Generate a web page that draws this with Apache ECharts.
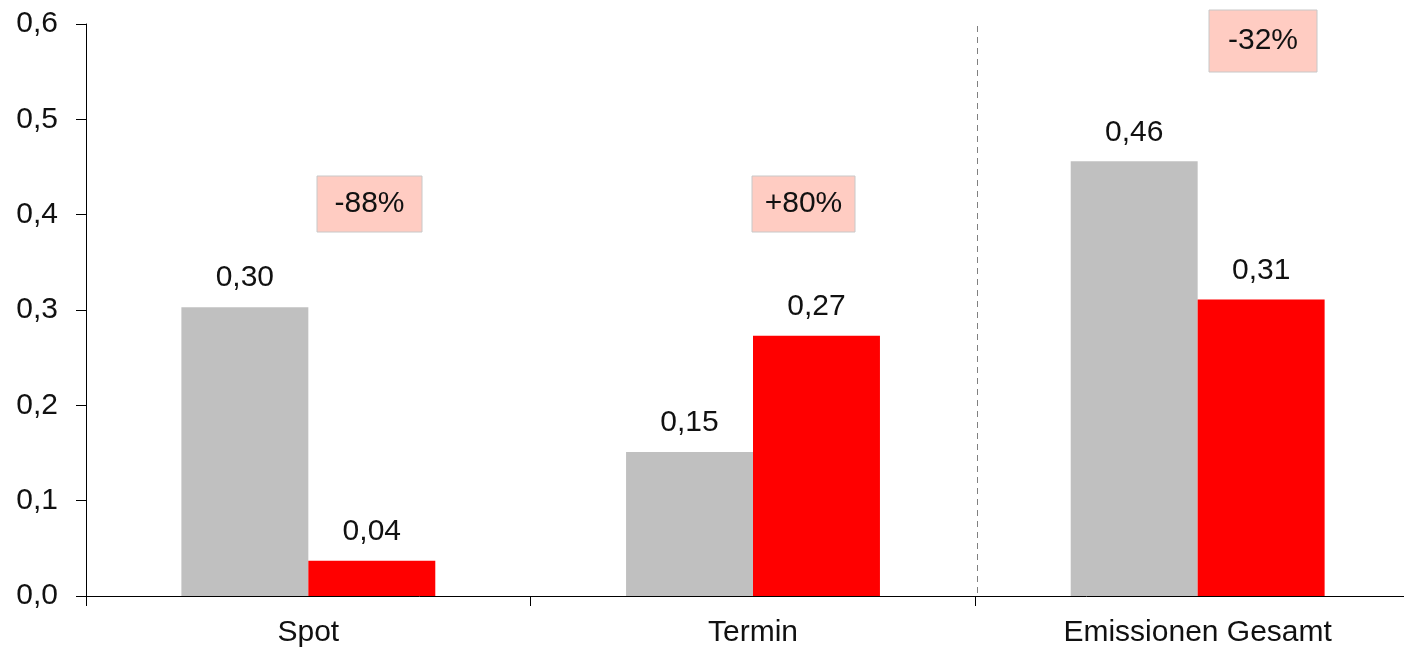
<!DOCTYPE html>
<html>
<head>
<meta charset="utf-8">
<script src="https://cdn.jsdelivr.net/npm/echarts@6/dist/echarts.min.js"></script>
<style>html,body{margin:0;padding:0;background:#fff;overflow:hidden;width:1404px;height:652px;}#c{width:1420px;height:652px;}</style>
</head>
<body>
<div id="c"></div>
<script>
const categories = ['Spot', 'Termin', 'Emissionen Gesamt'];
const grayValues = [0.303, 0.151, 0.456];
const redValues = [0.037, 0.273, 0.311];
const yTicks = [0, 0.1, 0.2, 0.3, 0.4, 0.5, 0.6];
const changeLabels = ['-88%', '+80%', '-32%'];

const FONT = '"Liberation Sans", Arial, sans-serif';
const fmt2 = v => v.toFixed(2).replace('.', ',');

const chart = echarts.init(document.getElementById('c'));

function box(x, y, w, h, txt) {
  return {
    type: 'group', x: x, y: y,
    children: [
      { type: 'rect', shape: { x: 0, y: 0, width: w, height: h },
        style: { fill: '#FFCCC2', stroke: '#C8C8C8', lineWidth: 1 } },
      { type: 'text', x: w / 2, y: h / 2,
        style: { text: txt, fontSize: 30, fontFamily: FONT, fill: '#111', align: 'center', verticalAlign: 'middle' } }
    ]
  };
}

chart.setOption({
  animation: false,
  backgroundColor: '#fff',
  grid: { left: 86, top: 24, bottom: 56, right: 0, containLabel: false },
  xAxis: {
    type: 'category',
    data: categories,
    axisLine: { lineStyle: { color: '#000', width: 1 } },
    axisTick: { show: true, length: 10, lineStyle: { color: '#000' } },
    axisLabel: { fontSize: 30, fontFamily: FONT, color: '#111', margin: 22 }
  },
  yAxis: {
    type: 'value',
    min: 0, max: 0.6, interval: 0.1,
    splitLine: { show: false },
    axisLine: { show: true, lineStyle: { color: '#000', width: 1 } },
    axisTick: { show: true, length: 10, lineStyle: { color: '#000' } },
    axisLabel: { fontSize: 30, fontFamily: FONT, color: '#111', margin: 28,
      formatter: v => v.toFixed(1).replace('.', ',') }
  },
  series: [
    {
      type: 'bar', data: grayValues, barGap: '0%', barCategoryGap: '42.9%',
      itemStyle: { color: '#C0C0C0' },
      label: { show: true, position: 'top', distance: 14, fontSize: 30, fontFamily: FONT, color: '#111',
        formatter: p => fmt2(p.value) }
    },
    {
      type: 'bar', data: redValues,
      itemStyle: { color: '#FF0000' },
      label: { show: true, position: 'top', distance: 14, fontSize: 30, fontFamily: FONT, color: '#111',
        formatter: p => fmt2(p.value) }
    }
  ],
  graphic: [
    { type: 'line', shape: { x1: 977.5, y1: 26, x2: 977.5, y2: 596 },
      style: { stroke: '#808080', lineWidth: 1, lineDash: [6, 5] } },
    box(317, 176, 105, 56, changeLabels[0]),
    box(752, 176, 103, 56, changeLabels[1]),
    box(1209, 10, 108, 62, changeLabels[2])
  ]
});
</script>
</body>
</html>
